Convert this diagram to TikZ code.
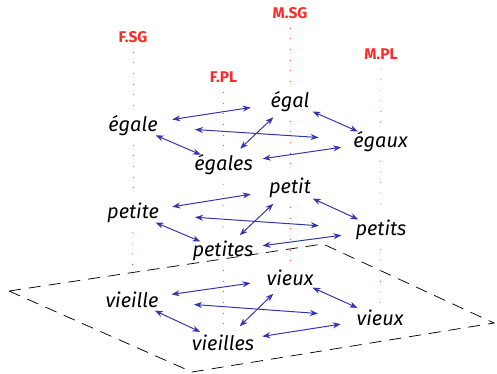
\documentclass[tikz,border=0pt]{standalone}
\usepackage{fontspec}
\setmainfont{Fira Sans}
\usetikzlibrary{arrows.meta,calc}
\definecolor{arrblue}{HTML}{3535B0}
\definecolor{labred}{HTML}{FF2A2A}
\begin{document}
\begin{tikzpicture}[x=1pt,y=-1pt,
  word/.style={font=\fontsize{20}{24}\selectfont\itshape, inner sep=2pt},
  lab/.style={font=\fontsize{15.5}{18}\selectfont\bfseries, text=labred, inner sep=2pt},
  guide/.style={draw=labred!85, line width=0.8pt, dash pattern=on 0.8pt off 9.8pt, shorten <=7pt, shorten >=5pt},
  link/.style={draw=arrblue, line width=1pt, {Stealth[length=8pt,width=6pt,inset=2.5pt]}-{Stealth[length=8pt,width=6pt,inset=2.5pt]}},
  plane/.style={line width=0.75pt, dash pattern=on 12pt off 8pt}]
\useasboundingbox (0,0) rectangle (497,373);
% plane
\coordinate (pl) at (9,291);
\coordinate (pt) at (323,244);
\coordinate (pr) at (494,323);
\coordinate (pb) at (192,372);
\draw[plane] (pl) -- (pt) -- (pr) -- (pb) -- cycle;
% labels
\node[lab] (FSG) at (133,37) {F.SG};
\node[lab] (FPL) at (223.5,77.5) {F.PL};
\node[lab] (MSG) at (290,13) {M.SG};
\node[lab] (MPL) at (381,54) {M.PL};
% words
\node[word] (a1) at (133,125.5) {égale};
\node[word] (b1) at (290,101.5) {égal};
\node[word] (c1) at (223.5,164.5) {égales};
\node[word] (d1) at (380.5,141.5) {égaux};
\node[word] (a2) at (133,213) {petite};
\node[word] (b2) at (290,188) {petit};
\node[word] (c2) at (223,251) {petites};
\node[word] (d2) at (381,230) {petits};
\node[word] (a3) at (132,300) {vieille};
\node[word] (b3) at (290,277.5) {vieux};
\node[word] (c3) at (223,342.5) {vieilles};
\node[word] (d3) at (380,318) {vieux};
% guides
\draw[guide] (FSG) -- (a1);
\draw[guide] (a1) -- (a2);
\draw[guide] (a2) -- (a3);
\draw[guide] (FPL) -- (c1);
\draw[guide] (c1) -- (c2);
\draw[guide] (c2) -- (c3);
\draw[guide] (MSG) -- (b1);
\draw[guide] (b1) -- (b2);
\draw[guide] (b2) -- (b3);
\draw[guide] (MPL) -- (d1);
\draw[guide] (d1) -- (d2);
\draw[guide] (d2) -- (d3);
% links
\foreach \i in {1,2,3}{
  \draw[link] ($(a\i)!.25!(b\i)$) -- ($(a\i)!.75!(b\i)$);
  \draw[link] ($(a\i)!.25!(c\i)$) -- ($(a\i)!.75!(c\i)$);
  \draw[link] ($(a\i)!.25!(d\i)$) -- ($(a\i)!.75!(d\i)$);
  \draw[link] ($(c\i)!.25!(b\i)$) -- ($(c\i)!.75!(b\i)$);
  \draw[link] ($(c\i)!.25!(d\i)$) -- ($(c\i)!.75!(d\i)$);
  \draw[link] ($(b\i)!.25!(d\i)$) -- ($(b\i)!.75!(d\i)$);
}
\end{tikzpicture}
\end{document}
